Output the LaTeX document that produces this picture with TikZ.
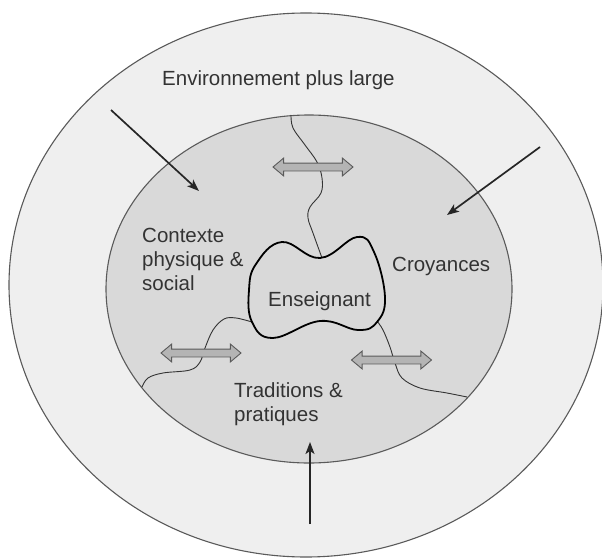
\documentclass[tikz,border=0pt]{standalone}
\usepackage{fontspec}
\setmainfont{Liberation Sans}
\usetikzlibrary{arrows.meta,shapes.arrows}

\definecolor{outerbg}{HTML}{EFEFEF}
\definecolor{innerbg}{HTML}{D9D9D9}
\definecolor{rim}{HTML}{5A5A5A}
\definecolor{txt}{HTML}{333333}
\definecolor{dblfill}{HTML}{B4B4B4}

\begin{document}
\begin{tikzpicture}[
  x=1pt,y=-1pt,
  every node/.style={font=\fontsize{20.5}{24}\selectfont,text=txt,inner sep=0pt},
  region/.style={draw=rim,line width=1.1pt},
  label/.style={align=left,anchor=west},
  border/.style={draw=black!80,line width=0.9pt},
  teacher/.style={draw=black,line width=1.8pt,fill=innerbg},
  dbl/.style={double arrow,draw=rim,fill=dblfill,line width=0.9pt,
    minimum height=80pt,inner sep=3.5pt,double arrow head extend=5pt,
    double arrow tip angle=80,font=\tiny},
  push/.style={-{Stealth[length=12pt,width=9pt,inset=3pt]},line width=1.7pt,black!85}
 ]
  \useasboundingbox (0,0) rectangle (602,559);
  % circles
  \draw[region,fill=outerbg] (306,285) ellipse [x radius=297,y radius=272];
  \draw[region,fill=innerbg] (309,289) ellipse [x radius=203,y radius=174];
  % borders between the parts
  \draw[border] plot[smooth,tension=0.6] coordinates {(291,115) (293,128)
    (305,145) (317,162) (322,178) (321,193) (310,207) (308,218) (313,233)
    (322,258)};
  \draw[border] plot[smooth,tension=0.6] coordinates {(252,322) (236,318)
    (224,319) (213,330) (205,348) (200,362) (190,370) (163,373) (148,378)
    (142,387)};
  \draw[border] plot[smooth,tension=0.6] coordinates {(377,321) (383,330)
    (390,347) (395,363) (402,378) (420,388) (447,393) (467,397)};
  % teacher
  \draw[teacher] plot[smooth cycle,tension=0.7] coordinates {(249,290)
    (256,264) (282,242) (320,258) (357,237) (374,252) (385,297) (377,322)
    (358,330) (320,321) (273,338) (252,322)};
  \node (ens) at (319.5,301) {Enseignant};
  % labels
  \node[anchor=base west] (env) at (162,86) {Environnement plus large};
  \node[label] (ctx) at (142,259) {Contexte\\physique \&\\social};
  \node[label] (cro) at (392,266) {Croyances};
  \node[label] (tra) at (234,404) {Traditions \&\\pratiques};
  % exchanges
  \node[dbl] (xtop) at (313,167) {};
  \node[dbl] (xleft) at (201,353) {};
  \node[dbl] (xright) at (391.5,360) {};
  % outside influences
  \coordinate (p1) at (111,110);
  \coordinate (q1) at (199,191);
  \coordinate (p2) at (540,147);
  \coordinate (q2) at (447,215);
  \coordinate (p3) at (310,524);
  \coordinate (q3) at (310,442);
  \draw[push] (p1) -- (q1);
  \draw[push] (p2) -- (q2);
  \draw[push] (p3) -- (q3);
 \end{tikzpicture}
\end{document}
